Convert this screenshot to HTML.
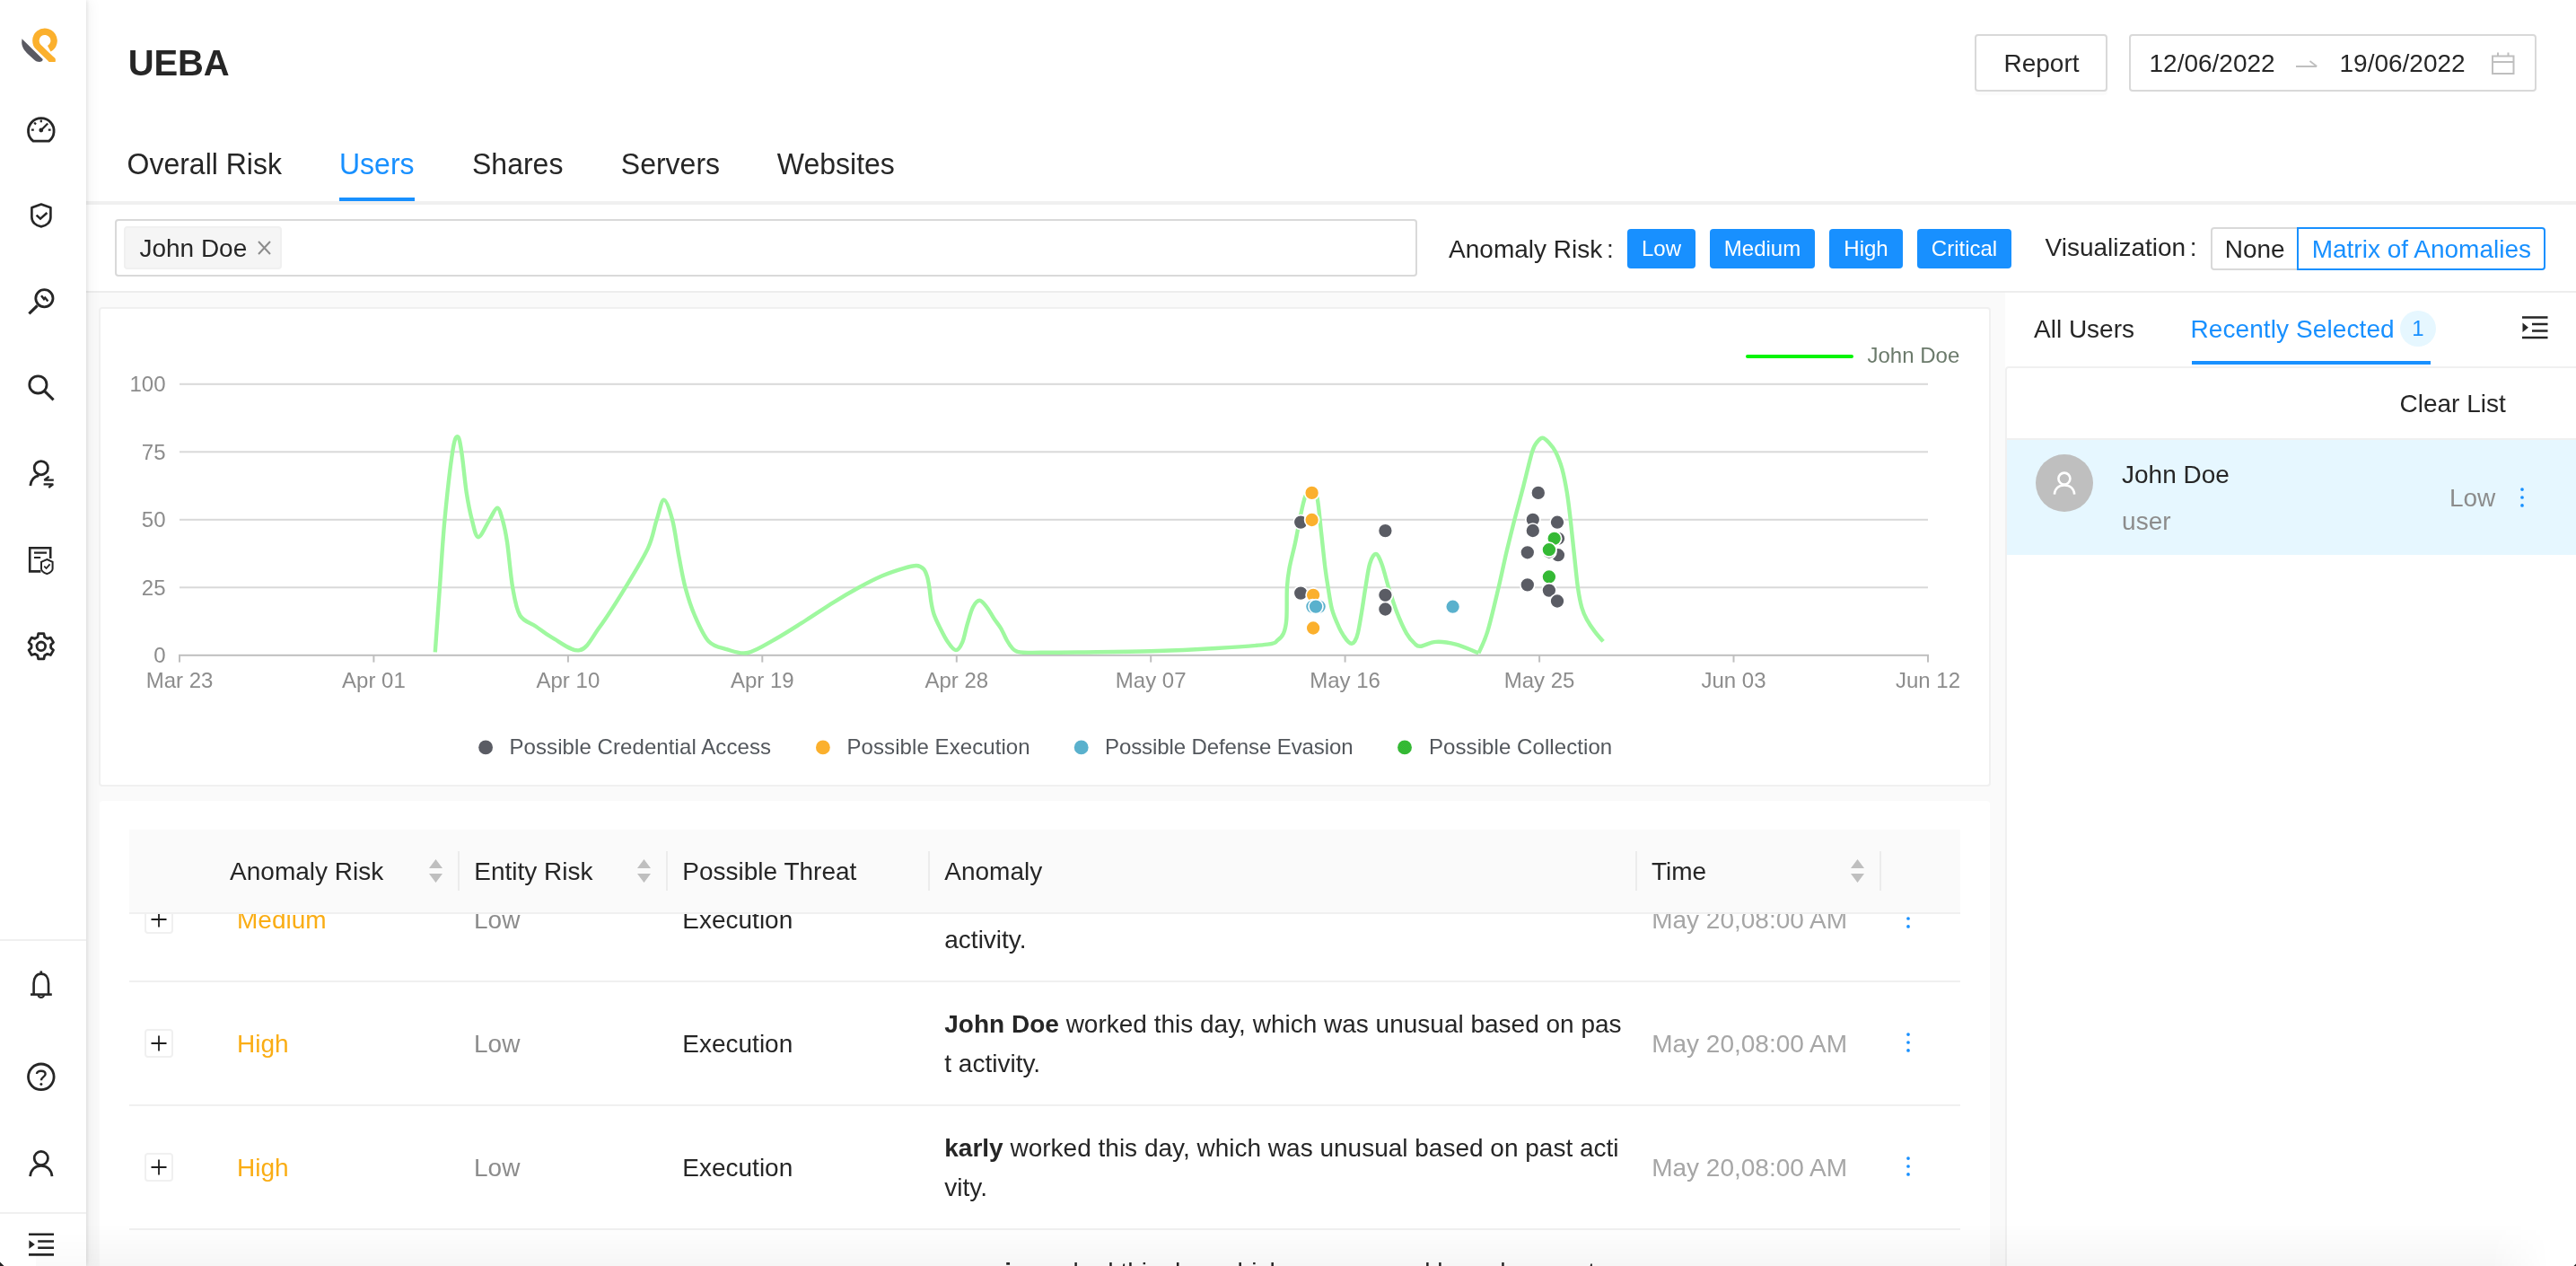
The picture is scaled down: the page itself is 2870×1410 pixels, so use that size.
<!DOCTYPE html>
<html><head><meta charset="utf-8"><title>UEBA</title>
<style>
html,body{margin:0;padding:0;}
body{width:2870px;height:1410px;overflow:hidden;position:relative;background:#fafafa;font-family:"Liberation Sans",sans-serif;color:#262626;}
.abs{position:absolute;}
.t{position:absolute;white-space:nowrap;}
.box{position:absolute;box-sizing:border-box;}
b{font-weight:700;}
</style></head><body>
<div id="root" style="position:absolute;left:0;top:0;width:2870px;height:1410px;will-change:transform">
<div class="box" style="left:96px;top:0;width:2774px;height:224px;background:#fff"></div>
<div class="box" style="left:96px;top:224px;width:2774px;height:4px;background:#f0f0f0"></div>
<div class="box" style="left:96px;top:228px;width:2774px;height:96px;background:#fff"></div>
<div class="box" style="left:96px;top:324px;width:2774px;height:2px;background:#ededed"></div>
<div class="box" style="left:110px;top:342px;width:2108px;height:534px;background:#fff;border:2px solid #f0f0f0;border-radius:4px"></div>
<div class="box" style="left:111px;top:892px;width:2106px;height:540px;background:#fff;border-radius:4px 4px 0 0"></div>
<div class="box" style="left:2234px;top:326px;width:636px;height:1090px;background:#fff"></div>
<div class="box" style="left:2234px;top:408px;width:642px;height:1010px;border:2px solid #f0f0f0;border-radius:4px 0 0 0"></div>
<div class="box" style="left:2236px;top:488px;width:634px;height:130px;background:#e6f7ff;border-top:2px solid #f0f0f0"></div>
<div class="t" style="left:142.8px;top:39.54px;font-size:40px;line-height:60px;color:#262626;font-weight:700;letter-spacing:-0.2px;">UEBA</div>
<div class="t" style="left:141.5px;top:159.11px;font-size:32px;line-height:48px;color:#262626;transform:scaleY(1.05);transform-origin:0 35.09px;">Overall Risk</div>
<div class="t" style="left:378px;top:159.11px;font-size:32px;line-height:48px;color:#1890ff;transform:scaleY(1.05);transform-origin:0 35.09px;">Users</div>
<div class="t" style="left:526px;top:159.11px;font-size:32px;line-height:48px;color:#262626;transform:scaleY(1.05);transform-origin:0 35.09px;">Shares</div>
<div class="t" style="left:691.8px;top:159.11px;font-size:32px;line-height:48px;color:#262626;transform:scaleY(1.05);transform-origin:0 35.09px;">Servers</div>
<div class="t" style="left:865.8px;top:159.11px;font-size:32px;line-height:48px;color:#262626;transform:scaleY(1.05);transform-origin:0 35.09px;">Websites</div>
<div class="box" style="left:378px;top:220px;width:84px;height:4px;background:#1890ff"></div>
<div class="box" style="left:2200px;top:38px;width:148px;height:64px;border:2px solid #d9d9d9;border-radius:4px;background:#fff;box-shadow:0 4px 0 rgba(0,0,0,0.015)"></div>
<div class="t" style="left:2232.5px;top:49.70px;font-size:28px;line-height:42px;color:#262626;">Report</div>
<div class="box" style="left:2372px;top:38px;width:454px;height:64px;border:2px solid #d9d9d9;border-radius:4px;background:#fff"></div>
<div class="t" style="left:2394.5px;top:49.70px;font-size:28px;line-height:42px;color:#262626;">12/06/2022</div>
<div class="t" style="left:2606.5px;top:49.70px;font-size:28px;line-height:42px;color:#262626;">19/06/2022</div>
<svg class="abs" style="left:2556px;top:58.6px" width="28" height="24" viewBox="0 0 28 24"><path d="M2 15 H25 M17.5 9 L25.3 15" fill="none" stroke="#bfbfbf" stroke-width="1.8"/></svg>
<svg class="abs" style="left:2774.5px;top:56.7px" width="28" height="28" viewBox="0 0 28 28"><path d="M2 5.5 H25.5 V25 H2 Z M2 12 H25.5 M8 1.5 V5.5 M19.5 1.5 V5.5" fill="none" stroke="#bfbfbf" stroke-width="2"/></svg>
<div class="box" style="left:128px;top:244px;width:1451px;height:64px;border:2px solid #d9d9d9;border-radius:4px;background:#fff"></div>
<div class="box" style="left:138px;top:252px;width:176px;height:48px;border:2px solid #f0f0f0;border-radius:4px;background:#f5f5f5"></div>
<div class="t" style="left:155.4px;top:255.70px;font-size:28px;line-height:42px;color:#262626;">John Doe</div>
<svg class="abs" style="left:285px;top:266px" width="20" height="20" viewBox="0 0 20 20"><path d="M3 3 L16 17 M16 3 L3 17" fill="none" stroke="#8c8c8c" stroke-width="2"/></svg>
<div class="t" style="left:1614.1px;top:257.00px;font-size:28px;line-height:42px;color:#262626;">Anomaly Risk</div>
<div class="t" style="left:1790px;top:257.00px;font-size:28px;line-height:42px;color:#262626;">:</div>
<div class="box" style="left:1813px;top:255px;width:76px;height:44px;background:#1890ff;border-radius:4px"></div>
<div class="t" style="left:1551.0px;width:600px;top:259.28px;font-size:24px;line-height:36px;color:#fff;text-align:center;">Low</div>
<div class="box" style="left:1905px;top:255px;width:117px;height:44px;background:#1890ff;border-radius:4px"></div>
<div class="t" style="left:1663.5px;width:600px;top:259.28px;font-size:24px;line-height:36px;color:#fff;text-align:center;">Medium</div>
<div class="box" style="left:2038px;top:255px;width:82px;height:44px;background:#1890ff;border-radius:4px"></div>
<div class="t" style="left:1779.0px;width:600px;top:259.28px;font-size:24px;line-height:36px;color:#fff;text-align:center;">High</div>
<div class="box" style="left:2136px;top:255px;width:105px;height:44px;background:#1890ff;border-radius:4px"></div>
<div class="t" style="left:1888.5px;width:600px;top:259.28px;font-size:24px;line-height:36px;color:#fff;text-align:center;">Critical</div>
<div class="t" style="left:2278.5px;top:254.80px;font-size:28px;line-height:42px;color:#262626;">Visualization</div>
<div class="t" style="left:2439.8px;top:254.80px;font-size:28px;line-height:42px;color:#262626;">:</div>
<div class="box" style="left:2463px;top:253px;width:98px;height:48px;border:2px solid #d9d9d9;border-radius:4px 0 0 4px;background:#fff"></div>
<div class="box" style="left:2559px;top:253px;width:277px;height:48px;border:2px solid #1890ff;border-radius:0 4px 4px 0;background:#fff"></div>
<div class="t" style="left:2478.7px;top:256.60px;font-size:28px;line-height:42px;color:#262626;">None</div>
<div class="t" style="left:2575.7px;top:256.60px;font-size:28px;line-height:42px;color:#1890ff;">Matrix of Anomalies</div>
<div class="t" style="left:2266px;top:345.60px;font-size:28px;line-height:42px;color:#262626;">All Users</div>
<div class="t" style="left:2440.4px;top:345.60px;font-size:28px;line-height:42px;color:#1890ff;letter-spacing:0.1px;">Recently Selected</div>
<div class="box" style="left:2674px;top:346px;width:40px;height:40px;border-radius:20px;background:#e6f7ff"></div>
<div class="t" style="left:2394px;width:600px;top:348.28px;font-size:24px;line-height:36px;color:#1890ff;text-align:center;">1</div>
<div class="box" style="left:2442px;top:402px;width:266px;height:4px;background:#1890ff"></div>
<svg class="abs" style="left:2808px;top:350px" width="32" height="30" viewBox="0 0 32 30"><path d="M2 3.5 H30.5 M13 11 H30.5 M13 18.5 H30.5 M2 26 H30.5" fill="none" stroke="#262626" stroke-width="2.6"/><path d="M2.5 9.5 L9 14.7 L2.5 20 Z" fill="#262626"/></svg>
<div class="t" style="left:2673.5px;top:428.60px;font-size:28px;line-height:42px;color:#262626;">Clear List</div>
<div class="box" style="left:2268px;top:506px;width:64px;height:64px;border-radius:32px;background:#bfbfbf"></div>
<svg class="abs" style="left:2268px;top:506px" width="64" height="64" viewBox="0 0 64 64"><circle cx="31.9" cy="27.1" r="6.5" fill="none" stroke="#fff" stroke-width="2.6"/><path d="M20.9 44.6 C21.4 38 26 34.4 32 34.4 C38 34.4 42.7 38 43.2 44.6" fill="none" stroke="#fff" stroke-width="2.6"/></svg>
<div class="t" style="left:2364px;top:508.30px;font-size:28px;line-height:42px;color:#262626;">John Doe</div>
<div class="t" style="left:2364.1px;top:560.20px;font-size:28px;line-height:42px;color:#8c8c8c;">user</div>
<div class="t" style="left:2728.9px;top:534.10px;font-size:28px;line-height:42px;color:#8c8c8c;">Low</div>
<svg class="abs" style="left:2806px;top:542px" width="8" height="24" viewBox="0 0 8 24"><circle cx="4" cy="3.1" r="1.85" fill="#1890ff"/><circle cx="4" cy="12" r="1.85" fill="#1890ff"/><circle cx="4" cy="20.9" r="1.85" fill="#1890ff"/></svg>
<svg class="abs" style="left:0;top:0" width="2870" height="1410" viewBox="0 0 2870 1410">
<defs><pattern id="hg" width="2" height="2" patternUnits="userSpaceOnUse"><rect width="2" height="2" fill="#1fd81f"/><rect width="1" height="1" fill="#4a9a4a"/><rect x="1" y="1" width="1" height="1" fill="#4a9a4a"/></pattern></defs>
<rect x="200" y="426.8" width="1948" height="2" fill="#d9d9d9"/>
<rect x="200" y="502.3" width="1948" height="2" fill="#d9d9d9"/>
<rect x="200" y="577.8" width="1948" height="2" fill="#d9d9d9"/>
<rect x="200" y="653.3" width="1948" height="2" fill="#d9d9d9"/>
<rect x="199" y="728.8" width="1950" height="2" fill="#bfbfbf"/>
<rect x="199.0" y="730" width="2" height="7.6" fill="#bfbfbf"/>
<rect x="415.4" y="730" width="2" height="7.6" fill="#bfbfbf"/>
<rect x="631.9" y="730" width="2" height="7.6" fill="#bfbfbf"/>
<rect x="848.3" y="730" width="2" height="7.6" fill="#bfbfbf"/>
<rect x="1064.8" y="730" width="2" height="7.6" fill="#bfbfbf"/>
<rect x="1281.2" y="730" width="2" height="7.6" fill="#bfbfbf"/>
<rect x="1497.6" y="730" width="2" height="7.6" fill="#bfbfbf"/>
<rect x="1714.1" y="730" width="2" height="7.6" fill="#bfbfbf"/>
<rect x="1930.5" y="730" width="2" height="7.6" fill="#bfbfbf"/>
<rect x="2147.0" y="730" width="2" height="7.6" fill="#bfbfbf"/>
<path d="M484.8,726.4C485.6,714.4 488.1,679.1 489.9,654.6C491.7,630.1 493.0,604.6 495.4,579.4C497.8,554.1 501.8,518.6 504.2,503.1C506.6,487.6 508.1,486.1 509.8,486.1C511.5,486.1 512.6,492.7 514.2,503.1C515.9,513.5 517.8,535.7 519.7,548.4C521.7,561.1 523.7,571.1 525.9,579.4C528.1,587.7 529.8,598.2 533.0,598.2C536.2,598.2 541.6,584.8 545.1,579.4C548.6,574.0 551.5,565.7 554.0,565.7C556.5,565.7 558.2,573.1 560.0,579.4C561.8,585.7 563.1,591.2 565.0,603.7C566.9,616.2 568.8,641.0 571.2,654.6C573.6,668.2 575.1,678.3 579.4,685.5C583.7,692.7 591.2,693.6 597.1,697.7C603.0,701.8 606.7,705.5 614.8,709.9C622.9,714.3 636.9,726.1 645.7,724.2C654.5,722.4 659.3,710.4 667.8,698.8C676.3,687.2 687.6,669.3 696.6,654.6C705.6,639.9 716.2,622.9 722.0,610.4C727.8,597.9 728.5,588.3 731.5,579.4C734.5,570.5 736.8,556.8 739.7,556.8C742.7,556.8 746.4,569.0 749.2,579.4C752.0,589.8 753.9,606.7 756.3,619.2C758.7,631.7 760.6,643.6 763.6,654.6C766.6,665.6 769.7,675.5 774.0,685.5C778.3,695.5 783.6,708.0 789.5,714.3C795.4,720.6 802.1,721.0 809.4,723.1C816.7,725.2 824.2,728.9 833.2,727.0C842.2,725.1 852.8,718.0 863.5,712.0C874.2,706.0 886.7,697.9 897.6,691.0C908.5,684.1 918.9,676.9 928.7,670.8C938.5,664.7 947.6,659.4 956.6,654.5C965.6,649.6 974.7,644.9 983.0,641.3C991.3,637.7 999.9,635.0 1006.3,633.1C1012.6,631.2 1017.3,629.9 1021.1,630.0C1024.9,630.1 1026.9,631.6 1028.9,633.6C1030.9,635.6 1031.9,638.6 1033.0,642.1C1034.1,645.6 1034.7,649.8 1035.4,654.5C1036.1,659.2 1036.6,665.2 1037.4,670.1C1038.2,675.0 1039.0,679.4 1040.5,684.0C1042.0,688.6 1044.1,692.8 1046.7,698.0C1049.3,703.2 1053.0,710.8 1056.0,715.1C1059.0,719.5 1062.2,724.1 1064.9,724.1C1067.6,724.1 1070.2,720.0 1072.3,715.1C1074.4,710.2 1075.8,701.4 1077.8,694.9C1079.8,688.4 1081.7,680.6 1084.0,676.3C1086.3,671.9 1088.8,668.8 1091.4,668.8C1094.0,668.8 1096.8,673.0 1099.5,676.3C1102.2,679.6 1104.7,684.8 1107.3,688.7C1109.9,692.6 1112.5,695.5 1115.0,699.6C1117.5,703.7 1119.8,709.7 1122.0,713.5C1124.2,717.3 1126.4,720.4 1128.2,722.4C1130.0,724.4 1131.0,724.9 1133.0,725.6C1135.0,726.3 1135.5,726.6 1140.0,726.8C1144.5,727.0 1150.0,726.8 1160.0,726.8C1170.0,726.8 1179.7,726.8 1200.0,726.5C1220.3,726.2 1256.0,726.0 1281.8,725.3C1307.6,724.5 1333.0,723.3 1354.8,722.0C1376.5,720.7 1400.9,719.1 1412.3,717.6C1423.7,716.1 1420.3,715.2 1423.3,713.2C1426.2,711.2 1428.3,709.3 1430.0,705.4C1431.7,701.5 1432.6,698.5 1433.3,690.0C1434.0,681.5 1433.4,664.2 1433.9,654.6C1434.5,645.0 1435.0,641.0 1436.6,632.5C1438.1,624.0 1441.2,613.3 1443.2,603.7C1445.2,594.1 1447.0,583.5 1448.8,575.0C1450.6,566.5 1452.3,557.8 1454.3,552.9C1456.3,548.0 1458.7,545.1 1460.9,545.5C1463.1,545.9 1465.8,547.2 1467.6,555.1C1469.4,563.0 1470.5,579.8 1472.0,592.7C1473.5,605.6 1475.1,622.2 1476.4,632.5C1477.7,642.8 1478.4,646.9 1479.7,654.6C1481.0,662.3 1482.1,671.5 1484.1,678.9C1486.1,686.3 1489.7,693.9 1491.9,698.8C1494.1,703.7 1495.6,705.8 1497.3,708.5C1499.0,711.2 1500.8,713.4 1502.3,714.8C1503.8,716.2 1504.8,716.8 1506.0,716.7C1507.2,716.6 1508.3,716.0 1509.5,714.0C1510.7,712.0 1511.7,710.1 1513.0,704.5C1514.3,698.9 1515.9,688.8 1517.3,680.5C1518.7,672.2 1519.8,663.4 1521.3,654.6C1522.8,645.9 1524.2,634.3 1526.1,628.0C1528.0,621.7 1530.6,617.0 1532.8,617.0C1535.0,617.0 1537.0,621.7 1539.4,628.0C1541.8,634.3 1544.4,645.8 1547.2,654.6C1550.0,663.5 1552.7,672.6 1556.0,681.1C1559.3,689.6 1563.7,699.5 1567.0,705.4C1570.3,711.3 1573.3,714.1 1575.9,716.5C1578.5,718.9 1578.5,720.1 1582.5,719.8C1586.5,719.5 1593.2,715.2 1599.8,714.9C1606.4,714.5 1614.0,715.6 1621.9,717.7C1629.8,719.8 1643.2,725.7 1647.4,727.3" fill="none" stroke="#9ff89f" stroke-width="4.4" stroke-linejoin="round" stroke-linecap="butt"/>
<path d="M1647.4,727.3C1649.1,723.3 1653.6,715.5 1657.3,703.4C1661.0,691.3 1666.0,669.5 1669.5,654.7C1673.0,640.0 1675.5,627.4 1678.4,614.9C1681.4,602.4 1684.1,591.7 1687.2,579.5C1690.3,567.3 1693.9,554.6 1697.2,541.9C1700.5,529.2 1704.5,511.4 1707.1,503.1C1709.7,494.8 1710.8,494.7 1712.7,492.1C1714.7,489.5 1716.6,487.5 1718.8,487.7C1721.0,487.9 1723.5,490.6 1725.9,493.2C1728.3,495.8 1730.6,498.3 1733.0,503.1C1735.4,507.9 1738.2,514.3 1740.3,521.9C1742.4,529.5 1744.2,538.9 1745.8,548.5C1747.4,558.1 1748.5,568.4 1749.8,579.5C1751.1,590.6 1752.2,602.4 1753.6,614.9C1755.0,627.4 1756.5,644.4 1758.0,654.7C1759.5,665.0 1760.7,670.9 1762.4,676.8C1764.1,682.7 1765.6,685.7 1768.0,690.1C1770.4,694.5 1773.8,699.4 1776.8,703.4C1779.8,707.4 1784.5,712.6 1786.1,714.4" fill="none" stroke="#9ff89f" stroke-width="4.4" stroke-linejoin="round" stroke-linecap="butt"/>
<circle cx="1449.2" cy="581.6" r="8" fill="#5a5c64" stroke="#fff" stroke-width="1.7"/>
<circle cx="1461.6" cy="548.9" r="8" fill="#fbb02d" stroke="#fff" stroke-width="1.7"/>
<circle cx="1461.6" cy="579" r="8" fill="#fbb02d" stroke="#fff" stroke-width="1.7"/>
<circle cx="1543.4" cy="591.1" r="8" fill="#5a5c64" stroke="#fff" stroke-width="1.7"/>
<circle cx="1449.2" cy="660.6" r="8" fill="#5a5c64" stroke="#fff" stroke-width="1.7"/>
<circle cx="1463.1" cy="662.8" r="8" fill="#fbb02d" stroke="#fff" stroke-width="1.7"/>
<circle cx="1462.4" cy="675.6" r="8" fill="#5ab1cd" stroke="#fff" stroke-width="1.7"/>
<circle cx="1469.6" cy="675.6" r="8" fill="#5ab1cd" stroke="#fff" stroke-width="1.7"/>
<circle cx="1466" cy="675.6" r="8" fill="#5ab1cd" stroke="#fff" stroke-width="1.7"/>
<circle cx="1463.1" cy="699.5" r="8" fill="#fbb02d" stroke="#fff" stroke-width="1.7"/>
<circle cx="1543.4" cy="662.8" r="8" fill="#5a5c64" stroke="#fff" stroke-width="1.7"/>
<circle cx="1543.4" cy="678.5" r="8" fill="#5a5c64" stroke="#fff" stroke-width="1.7"/>
<circle cx="1618.6" cy="675.7" r="8" fill="#5ab1cd" stroke="#fff" stroke-width="1.7"/>
<circle cx="1713.8" cy="548.9" r="8" fill="#5a5c64" stroke="#fff" stroke-width="1.7"/>
<circle cx="1707.8" cy="578.8" r="8" fill="#5a5c64" stroke="#fff" stroke-width="1.7"/>
<circle cx="1707.8" cy="591" r="8" fill="#5a5c64" stroke="#fff" stroke-width="1.7"/>
<circle cx="1735" cy="581.7" r="8" fill="#5a5c64" stroke="#fff" stroke-width="1.7"/>
<circle cx="1736" cy="599.8" r="8" fill="#5a5c64" stroke="#fff" stroke-width="1.7"/>
<circle cx="1731.7" cy="599.8" r="8" fill="url(#hg)" stroke="#fff" stroke-width="1.7"/>
<circle cx="1735.9" cy="618.2" r="8" fill="#5a5c64" stroke="#fff" stroke-width="1.7"/>
<circle cx="1725.9" cy="614.5" r="8" fill="#5a5c64" stroke="#fff" stroke-width="1.7"/>
<circle cx="1725.9" cy="612.2" r="8" fill="url(#hg)" stroke="#fff" stroke-width="1.7"/>
<circle cx="1701.8" cy="615.3" r="8" fill="#5a5c64" stroke="#fff" stroke-width="1.7"/>
<circle cx="1725.9" cy="642.5" r="8" fill="url(#hg)" stroke="#fff" stroke-width="1.7"/>
<circle cx="1701.8" cy="651.4" r="8" fill="#5a5c64" stroke="#fff" stroke-width="1.7"/>
<circle cx="1725.9" cy="657.6" r="8" fill="#5a5c64" stroke="#fff" stroke-width="1.7"/>
<circle cx="1735" cy="669.5" r="8" fill="#5a5c64" stroke="#fff" stroke-width="1.7"/>
<rect x="1945" y="394.9" width="120" height="4" rx="2" fill="#05f405"/>
<circle cx="541.1" cy="832.4" r="7.9" fill="#5a5c64"/>
<circle cx="916.9" cy="832.4" r="7.9" fill="#fbb02d"/>
<circle cx="1204.7" cy="832.4" r="7.9" fill="#5ab1cd"/>
<circle cx="1565" cy="832.4" r="7.9" fill="url(#hg)"/>
</svg>
<div class="t" style="right:2685.5px;top:410.08px;font-size:24px;line-height:36px;color:#8c8c8c;text-align:right;">100</div>
<div class="t" style="right:2685.5px;top:485.58px;font-size:24px;line-height:36px;color:#8c8c8c;text-align:right;">75</div>
<div class="t" style="right:2685.5px;top:561.08px;font-size:24px;line-height:36px;color:#8c8c8c;text-align:right;">50</div>
<div class="t" style="right:2685.5px;top:636.58px;font-size:24px;line-height:36px;color:#8c8c8c;text-align:right;">25</div>
<div class="t" style="right:2685.5px;top:712.08px;font-size:24px;line-height:36px;color:#8c8c8c;text-align:right;">0</div>
<div class="t" style="left:-100.0px;width:600px;top:739.58px;font-size:24px;line-height:36px;color:#8c8c8c;text-align:center;">Mar 23</div>
<div class="t" style="left:116.44px;width:600px;top:739.58px;font-size:24px;line-height:36px;color:#8c8c8c;text-align:center;">Apr 01</div>
<div class="t" style="left:332.88px;width:600px;top:739.58px;font-size:24px;line-height:36px;color:#8c8c8c;text-align:center;">Apr 10</div>
<div class="t" style="left:549.3199999999999px;width:600px;top:739.58px;font-size:24px;line-height:36px;color:#8c8c8c;text-align:center;">Apr 19</div>
<div class="t" style="left:765.76px;width:600px;top:739.58px;font-size:24px;line-height:36px;color:#8c8c8c;text-align:center;">Apr 28</div>
<div class="t" style="left:982.2px;width:600px;top:739.58px;font-size:24px;line-height:36px;color:#8c8c8c;text-align:center;">May 07</div>
<div class="t" style="left:1198.6399999999999px;width:600px;top:739.58px;font-size:24px;line-height:36px;color:#8c8c8c;text-align:center;">May 16</div>
<div class="t" style="left:1415.08px;width:600px;top:739.58px;font-size:24px;line-height:36px;color:#8c8c8c;text-align:center;">May 25</div>
<div class="t" style="left:1631.52px;width:600px;top:739.58px;font-size:24px;line-height:36px;color:#8c8c8c;text-align:center;">Jun 03</div>
<div class="t" style="left:1847.96px;width:600px;top:739.58px;font-size:24px;line-height:36px;color:#8c8c8c;text-align:center;">Jun 12</div>
<div class="t" style="left:2080.5px;top:377.68px;font-size:24px;line-height:36px;color:#6b7a6b;">John Doe</div>
<div class="t" style="left:567.5px;top:813.88px;font-size:24px;line-height:36px;color:#53575c;letter-spacing:0.08px;">Possible Credential Access</div>
<div class="t" style="left:943.5px;top:813.88px;font-size:24px;line-height:36px;color:#53575c;letter-spacing:0.08px;">Possible Execution</div>
<div class="t" style="left:1231px;top:813.88px;font-size:24px;line-height:36px;color:#53575c;letter-spacing:-0.1px;">Possible Defense Evasion</div>
<div class="t" style="left:1592px;top:813.88px;font-size:24px;line-height:36px;color:#53575c;letter-spacing:0.08px;">Possible Collection</div>
<div class="box" style="left:144px;top:1092px;width:2040px;height:2px;background:#f0f0f0"></div>
<div class="box" style="left:161px;top:1008px;width:32px;height:32px;border:2px solid #f0f0f0;border-radius:4px;background:#fff"></div>
<svg class="abs" style="left:161px;top:1008px" width="32" height="32" viewBox="0 0 32 32"><path d="M7.5 16 H24.5 M16 7.5 V24.5" stroke="#1f1f1f" stroke-width="1.8" fill="none"/></svg>
<div class="t" style="left:264px;top:1004.30px;font-size:28px;line-height:42px;color:#faad14;">Medium</div>
<div class="t" style="left:528px;top:1004.30px;font-size:28px;line-height:42px;color:#8c8c8c;">Low</div>
<div class="t" style="left:760.3px;top:1004.30px;font-size:28px;line-height:42px;color:#262626;">Execution</div>
<div class="t" style="left:1052.3px;top:1026.30px;font-size:28px;line-height:42px;color:#262626;">activity.</div>
<div class="t" style="left:1840.2px;top:1004.30px;font-size:28px;line-height:42px;color:#a6a6a6;">May 20,08:00 AM</div>
<svg class="abs" style="left:2122px;top:1011.2px" width="8" height="24" viewBox="0 0 8 24"><circle cx="4" cy="3.1" r="1.85" fill="#1890ff"/><circle cx="4" cy="12" r="1.85" fill="#1890ff"/><circle cx="4" cy="20.9" r="1.85" fill="#1890ff"/></svg>
<div class="box" style="left:144px;top:1230px;width:2040px;height:2px;background:#f0f0f0"></div>
<div class="box" style="left:161px;top:1146px;width:32px;height:32px;border:2px solid #f0f0f0;border-radius:4px;background:#fff"></div>
<svg class="abs" style="left:161px;top:1146px" width="32" height="32" viewBox="0 0 32 32"><path d="M7.5 16 H24.5 M16 7.5 V24.5" stroke="#1f1f1f" stroke-width="1.8" fill="none"/></svg>
<div class="t" style="left:264px;top:1142.30px;font-size:28px;line-height:42px;color:#faad14;">High</div>
<div class="t" style="left:528px;top:1142.30px;font-size:28px;line-height:42px;color:#8c8c8c;">Low</div>
<div class="t" style="left:760.3px;top:1142.30px;font-size:28px;line-height:42px;color:#262626;">Execution</div>
<div class="t" style="left:1052.3px;top:1120.30px;font-size:28px;line-height:42px;color:#262626;"><b>John Doe</b> worked this day, which was unusual based on pas</div>
<div class="t" style="left:1052.3px;top:1164.30px;font-size:28px;line-height:42px;color:#262626;">t activity.</div>
<div class="t" style="left:1840.2px;top:1142.30px;font-size:28px;line-height:42px;color:#a6a6a6;">May 20,08:00 AM</div>
<svg class="abs" style="left:2122px;top:1149.2px" width="8" height="24" viewBox="0 0 8 24"><circle cx="4" cy="3.1" r="1.85" fill="#1890ff"/><circle cx="4" cy="12" r="1.85" fill="#1890ff"/><circle cx="4" cy="20.9" r="1.85" fill="#1890ff"/></svg>
<div class="box" style="left:144px;top:1368px;width:2040px;height:2px;background:#f0f0f0"></div>
<div class="box" style="left:161px;top:1284px;width:32px;height:32px;border:2px solid #f0f0f0;border-radius:4px;background:#fff"></div>
<svg class="abs" style="left:161px;top:1284px" width="32" height="32" viewBox="0 0 32 32"><path d="M7.5 16 H24.5 M16 7.5 V24.5" stroke="#1f1f1f" stroke-width="1.8" fill="none"/></svg>
<div class="t" style="left:264px;top:1280.30px;font-size:28px;line-height:42px;color:#faad14;">High</div>
<div class="t" style="left:528px;top:1280.30px;font-size:28px;line-height:42px;color:#8c8c8c;">Low</div>
<div class="t" style="left:760.3px;top:1280.30px;font-size:28px;line-height:42px;color:#262626;">Execution</div>
<div class="t" style="left:1052.3px;top:1258.30px;font-size:28px;line-height:42px;color:#262626;"><b>karly</b> worked this day, which was unusual based on past acti</div>
<div class="t" style="left:1052.3px;top:1302.30px;font-size:28px;line-height:42px;color:#262626;">vity.</div>
<div class="t" style="left:1840.2px;top:1280.30px;font-size:28px;line-height:42px;color:#a6a6a6;">May 20,08:00 AM</div>
<svg class="abs" style="left:2122px;top:1287.2px" width="8" height="24" viewBox="0 0 8 24"><circle cx="4" cy="3.1" r="1.85" fill="#1890ff"/><circle cx="4" cy="12" r="1.85" fill="#1890ff"/><circle cx="4" cy="20.9" r="1.85" fill="#1890ff"/></svg>
<div class="box" style="left:144px;top:1506px;width:2040px;height:2px;background:#f0f0f0"></div>
<div class="box" style="left:161px;top:1422px;width:32px;height:32px;border:2px solid #f0f0f0;border-radius:4px;background:#fff"></div>
<svg class="abs" style="left:161px;top:1422px" width="32" height="32" viewBox="0 0 32 32"><path d="M7.5 16 H24.5 M16 7.5 V24.5" stroke="#1f1f1f" stroke-width="1.8" fill="none"/></svg>
<div class="t" style="left:264px;top:1418.30px;font-size:28px;line-height:42px;color:#faad14;">High</div>
<div class="t" style="left:528px;top:1418.30px;font-size:28px;line-height:42px;color:#8c8c8c;">Low</div>
<div class="t" style="left:760.3px;top:1418.30px;font-size:28px;line-height:42px;color:#262626;">Execution</div>
<div class="t" style="left:1052.3px;top:1396.30px;font-size:28px;line-height:42px;color:#262626;"><b>marcia</b> worked this day, which was unusual based on past ac</div>
<div class="t" style="left:1052.3px;top:1440.30px;font-size:28px;line-height:42px;color:#262626;">tivity.</div>
<div class="t" style="left:1840.2px;top:1418.30px;font-size:28px;line-height:42px;color:#a6a6a6;">May 20,08:00 AM</div>
<svg class="abs" style="left:2122px;top:1425.2px" width="8" height="24" viewBox="0 0 8 24"><circle cx="4" cy="3.1" r="1.85" fill="#1890ff"/><circle cx="4" cy="12" r="1.85" fill="#1890ff"/><circle cx="4" cy="20.9" r="1.85" fill="#1890ff"/></svg>
<div class="box" style="left:144px;top:924px;width:2040px;height:94px;background:#fafafa;border-bottom:2px solid #f0f0f0"></div>
<div class="t" style="left:256.1px;top:950.00px;font-size:28px;line-height:42px;color:#262626;">Anomaly Risk</div>
<div class="t" style="left:528.3px;top:950.00px;font-size:28px;line-height:42px;color:#262626;">Entity Risk</div>
<div class="t" style="left:760.3px;top:950.00px;font-size:28px;line-height:42px;color:#262626;">Possible Threat</div>
<div class="t" style="left:1052.3px;top:950.00px;font-size:28px;line-height:42px;color:#262626;">Anomaly</div>
<div class="t" style="left:1840px;top:950.00px;font-size:28px;line-height:42px;color:#262626;">Time</div>
<div class="box" style="left:510px;top:948px;width:2px;height:44px;background:#ececec"></div>
<div class="box" style="left:742px;top:948px;width:2px;height:44px;background:#ececec"></div>
<div class="box" style="left:1034px;top:948px;width:2px;height:44px;background:#ececec"></div>
<div class="box" style="left:1822px;top:948px;width:2px;height:44px;background:#ececec"></div>
<div class="box" style="left:2094px;top:948px;width:2px;height:44px;background:#ececec"></div>
<svg class="abs" style="left:476.5px;top:956px" width="17" height="28" viewBox="0 0 17 28"><path d="M8.5 1 L16 11 H1 Z M8.5 27 L16 17 H1 Z" fill="#bfbfbf"/></svg>
<svg class="abs" style="left:708.5px;top:956px" width="17" height="28" viewBox="0 0 17 28"><path d="M8.5 1 L16 11 H1 Z M8.5 27 L16 17 H1 Z" fill="#bfbfbf"/></svg>
<svg class="abs" style="left:2060.5px;top:956px" width="17" height="28" viewBox="0 0 17 28"><path d="M8.5 1 L16 11 H1 Z M8.5 27 L16 17 H1 Z" fill="#bfbfbf"/></svg>
<div class="box" style="left:0;top:0;width:96px;height:1410px;background:#fff;box-shadow:1px 0 4px rgba(0,0,0,0.10),4px 0 14px rgba(0,0,0,0.05)"></div>
<div class="box" style="left:0;top:1046px;width:96px;height:2px;background:#f0f0f0"></div>
<div class="box" style="left:0;top:1350px;width:96px;height:2px;background:#f0f0f0"></div>
<svg class="abs" style="left:20px;top:28px" width="56" height="48" viewBox="0 0 56 48"><defs><clipPath id="lc"><rect x="0" y="0" width="56" height="41"/></clipPath></defs><path d="M4.45 15.2 L27.7 38.0 C27.9 40.2 25 41.2 22.4 40.8 C20.5 40.6 19.2 39.6 18.0 38.6 L10.9 32 C7.6 28.8 4.3 24.6 4.2 19.6 Z" fill="#5a5a62"/><g clip-path="url(#lc)"><path d="M38.2 39.1 L22.86 24.44 A10.1 10.1 0 1 1 34.74 26.22" fill="none" stroke="#fbb02d" stroke-width="7.4" stroke-linecap="butt" stroke-linejoin="round"/><circle cx="38.2" cy="39.1" r="3.7" fill="#fbb02d"/></g></svg>
<svg class="abs" style="left:26px;top:124px" width="40" height="40" viewBox="0 0 40 40"><path d="M11 33.2 A14.3 14.3 0 1 1 28.6 33.2 Z" fill="none" stroke="#262626" stroke-width="2.8" stroke-linejoin="round"/><path d="M19.8 21 L27.2 13.4" stroke="#262626" stroke-width="2.2"/><circle cx="19.8" cy="21" r="2.4" fill="#262626"/><path d="M9 20.6 H11.8 M27.8 20.6 H30.6 M19.8 9.6 V12.2 M12.2 12.6 L14 14.6" stroke="#262626" stroke-width="2.2"/></svg>
<svg class="abs" style="left:30px;top:222px" width="32" height="36" viewBox="0 0 32 36"><path d="M15.9 5.6 L26.4 9.2 V20 C26.4 25.5 22 29.5 15.9 30.4 C9.8 29.5 5.4 25.5 5.4 20 V9.2 Z" fill="none" stroke="#262626" stroke-width="2.6" stroke-linejoin="round"/><path d="M10.6 17.6 L15 21.6 L22.4 15" fill="none" stroke="#262626" stroke-width="2.6"/></svg>
<svg class="abs" style="left:28px;top:314px" width="36" height="40" viewBox="0 0 36 40"><circle cx="21.4" cy="18.3" r="9.6" fill="none" stroke="#262626" stroke-width="2.8"/><path d="M13.6 26.4 L4.4 35.4" stroke="#262626" stroke-width="3.2"/><path d="M18 15.2 L21 19 L22.2 17.6 L25.4 21.6" fill="none" stroke="#262626" stroke-width="2.4"/></svg>
<svg class="abs" style="left:26px;top:410px" width="40" height="40" viewBox="0 0 40 40"><circle cx="16.4" cy="18.4" r="9.6" fill="none" stroke="#262626" stroke-width="2.8"/><path d="M23.4 25.4 L33.6 35.4" stroke="#262626" stroke-width="3"/></svg>
<svg class="abs" style="left:28px;top:506px" width="36" height="40" viewBox="0 0 36 40"><circle cx="17.8" cy="15.2" r="7.6" fill="none" stroke="#262626" stroke-width="2.8"/><path d="M5.8 35 C6.4 28.5 10 24.6 15.4 23.6" fill="none" stroke="#262626" stroke-width="2.8"/><path d="M31.8 28.6 H21.4 L26.6 24.8 M20.6 33.4 H31.2 L26.2 37" fill="none" stroke="#262626" stroke-width="2.3" stroke-linejoin="bevel"/></svg>
<svg class="abs" style="left:28px;top:604px" width="36" height="40" viewBox="0 0 36 40"><path d="M17.4 32.4 H5.2 V6.2 H28.2 V18" fill="none" stroke="#262626" stroke-width="2.6"/><path d="M10 11.6 H24 M10 17 H17.2" stroke="#262626" stroke-width="2.2"/><path d="M24.3 19 L30.6 21.8 V29.4 C30.6 31.6 28.4 33.4 24.3 35.2 C20.2 33.4 18 31.6 18 29.4 V21.8 Z" fill="#fff" stroke="#262626" stroke-width="2"/><path d="M21.2 26.6 L23.6 29 L27.6 24.4" fill="none" stroke="#262626" stroke-width="1.8"/></svg>
<svg class="abs" style="left:26px;top:700px" width="40" height="40" viewBox="0 0 40 40"><path d="M15.9,9.6 L16.7,5.7 L22.9,5.7 L23.7,9.6 L26.7,11.3 L30.4,10.1 L33.5,15.5 L30.6,18.1 L30.6,21.5 L33.5,24.1 L30.4,29.5 L26.7,28.3 L23.7,30.0 L22.9,33.9 L16.7,33.9 L15.9,30.0 L12.9,28.3 L9.2,29.5 L6.1,24.1 L9.0,21.5 L9.0,18.1 L6.1,15.5 L9.2,10.1 L12.9,11.3Z" fill="none" stroke="#262626" stroke-width="2.8" stroke-linejoin="round"/><circle cx="19.8" cy="19.8" r="4.8" fill="none" stroke="#262626" stroke-width="2.8"/></svg>
<svg class="abs" style="left:28px;top:1078px" width="36" height="38" viewBox="0 0 36 38"><path d="M9.6 29.4 V17 C9.6 10.5 13 6.6 17.8 6.6 C22.6 6.6 26 10.5 26 17 V29.4" fill="none" stroke="#262626" stroke-width="2.6"/><path d="M6 29.6 H29.8" stroke="#262626" stroke-width="2.6"/><path d="M17.8 3.4 V6.6" stroke="#262626" stroke-width="2.6"/><path d="M14.6 30.4 C15.2 33.8 20.4 33.8 21 30.4" fill="none" stroke="#262626" stroke-width="2.2"/></svg>
<svg class="abs" style="left:26px;top:1180px" width="40" height="40" viewBox="0 0 40 40"><circle cx="19.8" cy="19.3" r="14.3" fill="none" stroke="#262626" stroke-width="2.8"/><path d="M15 16 C15 11.6 24.6 11.6 24.6 16.2 C24.6 19.4 20 19.4 19.9 23.2" fill="none" stroke="#262626" stroke-width="2.4"/><circle cx="19.9" cy="27.4" r="1.5" fill="#262626"/></svg>
<svg class="abs" style="left:28px;top:1274px" width="36" height="40" viewBox="0 0 36 40"><circle cx="17.8" cy="16" r="7.6" fill="none" stroke="#262626" stroke-width="2.8"/><path d="M5.6 36.2 C6.4 28.6 11 24.4 17.8 24.4 C24.6 24.4 29.2 28.6 30 36.2" fill="none" stroke="#262626" stroke-width="2.8"/></svg>
<svg class="abs" style="left:30px;top:1370px" width="32" height="32" viewBox="0 0 32 32"><path d="M2 4.7 H30 M12.2 12.5 H30 M12.2 19.7 H30 M2 27.4 H30" stroke="#262626" stroke-width="2.6"/><path d="M2.4 11.2 L8.8 16 L2.4 20.8 Z" fill="#262626"/></svg>
<div class="box" style="left:96px;top:1362px;width:2774px;height:48px;background:linear-gradient(to bottom, rgba(0,0,0,0), rgba(0,0,0,0.035));-webkit-mask-image:linear-gradient(to right,#000 0,#000 2680px,transparent 2745px);mask-image:linear-gradient(to right,#000 0,#000 2680px,transparent 2745px)"></div>
<div class="box" style="left:40px;top:1372px;width:56px;height:38px;background:linear-gradient(to bottom, rgba(0,0,0,0), rgba(0,0,0,0.018))"></div>
<svg class="abs" style="left:0;top:1404px" width="6" height="6" viewBox="0 0 6 6"><path d="M0 1.5 L4.5 6 H0 Z" fill="#222"/></svg>
<svg class="abs" style="left:2864px;top:1404px" width="6" height="6" viewBox="0 0 6 6"><path d="M6 3.5 L3.5 6 H6 Z" fill="#222"/></svg>
</div>
</body></html>
